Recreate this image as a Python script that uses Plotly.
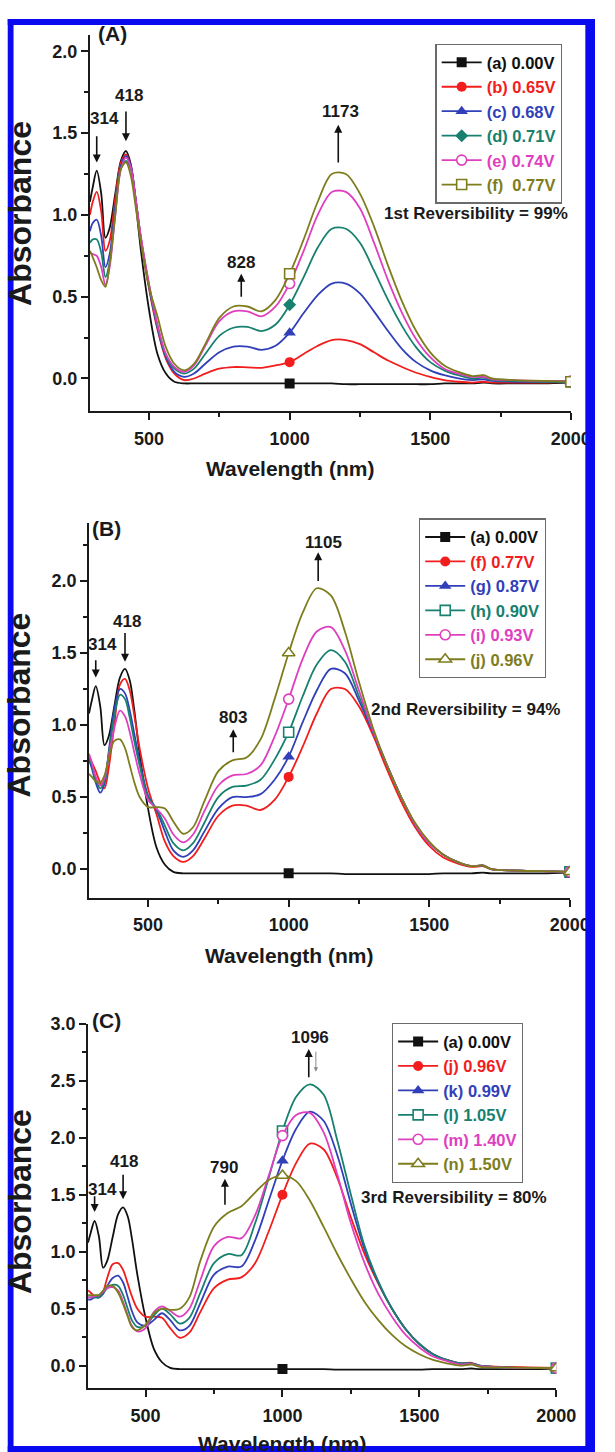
import plotly.graph_objects as go

# ---------------------------------------------------------------------------
# Spectra (absorbance vs. wavelength), one list per applied potential
# ---------------------------------------------------------------------------
wavelength = [290, 300, 314, 330, 345, 360, 380, 400, 418, 435, 450, 470, 500, 530,
              560, 590, 625, 660, 700, 750, 800, 850, 900, 950, 1000, 1050, 1100,
              1150, 1200, 1250, 1300, 1350, 1400, 1450, 1500, 1550, 1600, 1650,
              1690, 1720, 1800, 1900, 2000]

abs_000V = [1.08, 1.17, 1.27, 1.13, 0.86, 0.92, 1.13, 1.33, 1.39, 1.31, 1.12, 0.80, 0.42, 0.15,
            0.03, -0.02, -0.03, -0.03, -0.03, -0.03, -0.03, -0.03, -0.03, -0.03, -0.03, -0.03, -0.03,
            -0.03, -0.035, -0.035, -0.035, -0.035, -0.035, -0.035, -0.035, -0.03, -0.03, -0.03,
            -0.025, -0.03, -0.03, -0.03, -0.025]

abs_065V = [1.00, 1.08, 1.14, 1.02, 0.78, 0.84, 1.10, 1.32, 1.37, 1.30, 1.13, 0.86, 0.55, 0.30,
            0.12, 0.03, -0.01, 0.00, 0.03, 0.06, 0.07, 0.068, 0.065, 0.08, 0.10, 0.15, 0.20,
            0.235, 0.235, 0.21, 0.16, 0.11, 0.07, 0.035, 0.01, -0.01, -0.02, -0.025,
            -0.02, -0.025, -0.025, -0.025, -0.02]

abs_068V = [0.90, 0.95, 0.97, 0.87, 0.68, 0.76, 1.05, 1.30, 1.36, 1.30, 1.13, 0.87, 0.56, 0.31,
            0.13, 0.04, 0.01, 0.03, 0.09, 0.16, 0.195, 0.195, 0.175, 0.20, 0.28, 0.40, 0.51,
            0.58, 0.58, 0.52, 0.41, 0.29, 0.18, 0.10, 0.05, 0.02, 0.00, -0.01,
            -0.005, -0.015, -0.02, -0.02, -0.02]

abs_071V = [0.83, 0.85, 0.85, 0.77, 0.62, 0.71, 1.02, 1.28, 1.33, 1.28, 1.12, 0.87, 0.57, 0.32,
            0.14, 0.06, 0.03, 0.06, 0.15, 0.26, 0.31, 0.315, 0.29, 0.33, 0.45, 0.62, 0.80,
            0.915, 0.915, 0.83, 0.66, 0.48, 0.32, 0.19, 0.10, 0.05, 0.02, 0.00,
            0.005, -0.01, -0.015, -0.02, -0.02]

abs_074V = [0.77, 0.76, 0.75, 0.68, 0.57, 0.68, 1.00, 1.28, 1.35, 1.29, 1.13, 0.88, 0.58, 0.33,
            0.15, 0.07, 0.04, 0.08, 0.20, 0.35, 0.41, 0.41, 0.38, 0.44, 0.58, 0.78, 1.00,
            1.14, 1.14, 1.04, 0.83, 0.60, 0.40, 0.24, 0.13, 0.06, 0.03, 0.01,
            0.01, -0.005, -0.01, -0.015, -0.015]

abs_077V = [0.78, 0.74, 0.68, 0.60, 0.56, 0.70, 1.00, 1.28, 1.32, 1.24, 1.08, 0.84, 0.56, 0.38,
            0.19, 0.09, 0.05, 0.09, 0.21, 0.37, 0.44, 0.44, 0.41, 0.48, 0.64, 0.85, 1.08,
            1.25, 1.25, 1.13, 0.93, 0.69, 0.47, 0.29, 0.16, 0.08, 0.04, 0.015,
            0.02, 0.00, -0.01, -0.015, -0.02]

abs_087V = [0.76, 0.70, 0.60, 0.53, 0.59, 0.81, 1.11, 1.25, 1.22, 1.10, 0.95, 0.75, 0.51, 0.41,
            0.26, 0.13, 0.085, 0.13, 0.26, 0.42, 0.50, 0.50, 0.52, 0.62, 0.78, 1.02, 1.24,
            1.39, 1.36, 1.17, 0.95, 0.72, 0.50, 0.31, 0.18, 0.10, 0.05, 0.02,
            0.025, 0.00, -0.01, -0.015, -0.02]

abs_090V = [0.78, 0.72, 0.62, 0.56, 0.61, 0.80, 1.06, 1.21, 1.18, 1.05, 0.90, 0.72, 0.50, 0.42,
            0.30, 0.18, 0.13, 0.18, 0.32, 0.50, 0.57, 0.58, 0.62, 0.76, 0.95, 1.20, 1.42,
            1.52, 1.44, 1.20, 0.96, 0.72, 0.50, 0.31, 0.18, 0.10, 0.05, 0.02,
            0.025, 0.00, -0.01, -0.015, -0.02]

abs_093V = [0.80, 0.74, 0.64, 0.58, 0.63, 0.78, 0.98, 1.10, 1.06, 0.95, 0.82, 0.66, 0.48, 0.42,
            0.35, 0.24, 0.185, 0.24, 0.40, 0.58, 0.65, 0.66, 0.72, 0.92, 1.18, 1.46, 1.65,
            1.68, 1.52, 1.24, 0.96, 0.72, 0.50, 0.31, 0.18, 0.10, 0.05, 0.02,
            0.025, 0.00, -0.01, -0.015, -0.02]

abs_096V = [0.66, 0.64, 0.61, 0.60, 0.65, 0.77, 0.89, 0.90, 0.84, 0.72, 0.61, 0.50, 0.43, 0.43,
            0.42, 0.33, 0.245, 0.29, 0.47, 0.68, 0.755, 0.775, 0.90, 1.18, 1.50, 1.78, 1.95,
            1.90, 1.65, 1.30, 0.98, 0.72, 0.50, 0.32, 0.19, 0.10, 0.05, 0.02,
            0.025, 0.00, -0.01, -0.015, -0.02]

abs_099V = [0.58, 0.58, 0.60, 0.60, 0.63, 0.70, 0.77, 0.79, 0.73, 0.60, 0.48, 0.38, 0.35, 0.40,
            0.46, 0.40, 0.31, 0.35, 0.55, 0.80, 0.87, 0.87, 1.10, 1.45, 1.80, 2.08, 2.23,
            2.15, 1.85, 1.42, 1.02, 0.73, 0.50, 0.32, 0.19, 0.10, 0.05, 0.02,
            0.02, 0.00, -0.015, -0.02, -0.02]

abs_105V = [0.60, 0.60, 0.60, 0.60, 0.64, 0.68, 0.71, 0.70, 0.62, 0.50, 0.40, 0.34, 0.35, 0.44,
            0.50, 0.45, 0.37, 0.42, 0.64, 0.90, 0.98, 0.97, 1.25, 1.65, 2.06, 2.36, 2.47,
            2.38, 1.98, 1.50, 1.05, 0.74, 0.50, 0.32, 0.19, 0.10, 0.05, 0.02,
            0.02, 0.00, -0.015, -0.02, -0.02]

abs_140V = [0.60, 0.60, 0.61, 0.62, 0.65, 0.68, 0.69, 0.66, 0.56, 0.44, 0.35, 0.30, 0.33, 0.47,
            0.52, 0.48, 0.43, 0.50, 0.75, 1.05, 1.13, 1.12, 1.32, 1.67, 2.02, 2.20, 2.22,
            2.05, 1.68, 1.25, 0.90, 0.63, 0.43, 0.27, 0.16, 0.08, 0.04, 0.01,
            0.015, -0.005, -0.015, -0.02, -0.02]

abs_150V = [0.62, 0.62, 0.62, 0.62, 0.66, 0.70, 0.70, 0.64, 0.54, 0.43, 0.34, 0.31, 0.36, 0.46,
            0.50, 0.49, 0.50, 0.60, 0.92, 1.22, 1.34, 1.40, 1.52, 1.63, 1.67, 1.62, 1.45,
            1.22, 0.98, 0.76, 0.56, 0.40, 0.27, 0.17, 0.10, 0.05, 0.02, 0.00,
            0.01, -0.01, -0.015, -0.02, -0.02]

# Wavelengths that carry a symbol on each curve
marker_wavelengths = [1000, 2000]

# ---------------------------------------------------------------------------
# Styling
# ---------------------------------------------------------------------------
FONT = "Liberation Sans, Arial, Helvetica, sans-serif"
INK = "#1a1a1a"
BLACK = "#111111"
RED = "#f21d1d"
BLUE = "#3140b8"
TEAL = "#17806f"
PINK = "#df3fbf"
OLIVE = "#7d7d1e"

W, H = 615, 1452

# Plot-area boxes in pixels: (left, right, top, bottom)
boxes = {
    1: (93, 590, 25, 404),
    2: (92, 589, 517, 894),
    3: (91, 575, 1021, 1388),
}
y_ranges = {1: [-0.2, 2.1], 2: [-0.2, 2.4], 3: [-0.2, 3.0]}
x_range = [290, 2000]


def px_x(p):
    return p / W


def px_y(p):
    return 1 - p / H


# (panel, label, spectrum, colour, symbol, open)
series = [
    (1, "(a) 0.00V", abs_000V, BLACK, "square", False),
    (1, "(b) 0.65V", abs_065V, RED, "circle", False),
    (1, "(c) 0.68V", abs_068V, BLUE, "triangle-up", False),
    (1, "(d) 0.71V", abs_071V, TEAL, "diamond", False),
    (1, "(e) 0.74V", abs_074V, PINK, "circle", True),
    (1, "(f)&nbsp; 0.77V", abs_077V, OLIVE, "square", True),
    (2, "(a) 0.00V", abs_000V, BLACK, "square", False),
    (2, "(f) 0.77V", abs_077V, RED, "circle", False),
    (2, "(g) 0.87V", abs_087V, BLUE, "triangle-up", False),
    (2, "(h) 0.90V", abs_090V, TEAL, "square", True),
    (2, "(i) 0.93V", abs_093V, PINK, "circle", True),
    (2, "(j) 0.96V", abs_096V, OLIVE, "triangle-up", True),
    (3, "(a) 0.00V", abs_000V, BLACK, "square", False),
    (3, "(j) 0.96V", abs_096V, RED, "circle", False),
    (3, "(k) 0.99V", abs_099V, BLUE, "triangle-up", False),
    (3, "(l) 1.05V", abs_105V, TEAL, "square", True),
    (3, "(m) 1.40V", abs_140V, PINK, "circle", True),
    (3, "(n) 1.50V", abs_150V, OLIVE, "triangle-up", True),
]

fig = go.Figure()

for i, (panel, label, spec, color, symbol, is_open) in enumerate(series):
    xa = "x" if panel == 1 else f"x{panel}"
    ya = "y" if panel == 1 else f"y{panel}"
    lg = "legend" if panel == 1 else f"legend{panel}"
    marker = dict(symbol=symbol, size=10 if symbol != "triangle-up" else 11,
                  color="white" if is_open else color,
                  line=dict(color=color, width=1.6 if is_open else 0))
    # spectrum line
    fig.add_trace(go.Scatter(x=wavelength, y=spec, mode="lines", xaxis=xa, yaxis=ya,
                             line=dict(color=color, width=1.8, shape="spline", smoothing=0.9),
                             showlegend=False, hoverinfo="skip"))
    # symbols on the curve
    mx = [w for w in wavelength if w in marker_wavelengths]
    my = [spec[wavelength.index(w)] for w in mx]
    fig.add_trace(go.Scatter(x=mx, y=my, mode="markers", xaxis=xa, yaxis=ya,
                             marker=marker, showlegend=False, hoverinfo="skip"))
    # legend entry
    fig.add_trace(go.Scatter(x=[None], y=[None], mode="lines+markers", xaxis=xa, yaxis=ya,
                             name=f'<span style="color:{color}">{label}</span>',
                             line=dict(color=color, width=1.8), marker=marker,
                             legend=lg, legendgroup=f"g{i}", showlegend=True))

axis_common = dict(showline=True, linecolor=INK, linewidth=2, mirror=False,
                   showgrid=False, zeroline=False, ticks="outside", ticklen=7, tickwidth=2,
                   tickcolor=INK,
                   tickfont=dict(family=FONT, size=18, color=INK, weight="bold"))

layout = dict(width=W, height=H, autosize=False, margin=dict(l=0, r=0, t=0, b=0),
              plot_bgcolor="white", paper_bgcolor="white", showlegend=True)

for p, (l, r, t, b) in boxes.items():
    xs = "xaxis" if p == 1 else f"xaxis{p}"
    ys = "yaxis" if p == 1 else f"yaxis{p}"
    yanchor = "y" if p == 1 else f"y{p}"
    xanchor = "x" if p == 1 else f"x{p}"
    ymax = y_ranges[p][1]
    layout[xs] = dict(axis_common, domain=[px_x(l), px_x(r)], range=x_range, anchor=yanchor,
                      tickvals=[500, 1000, 1500, 2000], ticklabelstandoff=3,
                      minor=dict(tickvals=[750, 1250, 1750], ticks="outside", ticklen=4,
                                 tickwidth=2, tickcolor=INK))
    majors = [v / 2 for v in range(0, int(ymax * 2) + 1)]
    minors = [v + 0.25 for v in majors if v + 0.25 < ymax]
    layout[ys] = dict(axis_common, domain=[px_y(b), px_y(t)], range=y_ranges[p], anchor=xanchor,
                      tickvals=majors, tickformat=".1f",
                      minor=dict(tickvals=minors, ticks="outside", ticklen=4,
                                 tickwidth=2, tickcolor=INK))

legend_common = dict(bgcolor="white", bordercolor="#6b6b6b", borderwidth=1.3,
                     font=dict(family=FONT, size=16.5, weight="bold"), tracegroupgap=0,
                     xanchor="left", yanchor="top", itemwidth=40, traceorder="normal")
layout["legend"] = dict(legend_common, x=px_x(450), y=px_y(34))
layout["legend2"] = dict(legend_common, x=px_x(433), y=px_y(512))
layout["legend3"] = dict(legend_common, x=px_x(405), y=px_y(1020))

fig.update_layout(**layout)

# ---------------------------------------------------------------------------
# Peak labels and arrows
# ---------------------------------------------------------------------------
ann = []


def label(panel, x, y, text, size=17):
    sfx = "" if panel == 1 else str(panel)
    ann.append(dict(x=x, y=y, xref="x" + sfx, yref="y" + sfx, text=text, showarrow=False,
                    xanchor="center", yanchor="middle",
                    font=dict(family=FONT, size=size, color=INK, weight="bold")))


def arrow(panel, x, y_tail, y_head, color="#111111", width=1.6, size=1.0):
    sfx = "" if panel == 1 else str(panel)
    ann.append(dict(x=x, y=y_head, ax=x, ay=y_tail, xref="x" + sfx, yref="y" + sfx,
                    axref="x" + sfx, ayref="y" + sfx, text="", showarrow=True,
                    arrowhead=2, arrowsize=size, arrowwidth=width, arrowcolor=color))


# panel A
label(1, 340, 1.59, "314")
arrow(1, 314, 1.49, 1.32)
label(1, 428, 1.73, "418")
arrow(1, 418, 1.64, 1.45)
label(1, 828, 0.71, "828")
arrow(1, 828, 0.49, 0.64)
label(1, 1180, 1.63, "1173")
arrow(1, 1173, 1.31, 1.55)
label(1, 1662, 1.01, "1st Reversibility = 99%")

# panel B
label(2, 338, 1.56, "314")
arrow(2, 314, 1.46, 1.33)
label(2, 425, 1.72, "418")
arrow(2, 418, 1.65, 1.44)
label(2, 803, 1.05, "803")
arrow(2, 803, 0.80, 0.97)
label(2, 1125, 2.27, "1105")
arrow(2, 1105, 1.99, 2.20)
label(2, 1628, 1.11, "2nd Reversibility = 94%")

# panel C
label(3, 343, 1.55, "314")
arrow(3, 314, 1.50, 1.35)
label(3, 421, 1.79, "418")
arrow(3, 418, 1.69, 1.46)
label(3, 786, 1.74, "790")
arrow(3, 790, 1.40, 1.64)
label(3, 1102, 2.88, "1096")
arrow(3, 1096, 2.52, 2.78)
arrow(3, 1122, 2.77, 2.58, color="#8a8a8a", width=1.0, size=0.9)
label(3, 1627, 1.48, "3rd Reversibility = 80%")

# panel letters (paper coordinates)
for txt, xp, yp in [("(A)", 116, 24), ("(B)", 110, 522), ("(C)", 110, 1018)]:
    ann.append(dict(x=px_x(xp), y=px_y(yp), xref="paper", yref="paper", text=txt,
                    xanchor="center", yanchor="middle", showarrow=False,
                    font=dict(family=FONT, size=21, color=INK, weight="bold")))

# axis titles
for sfx, yp in [("", 462), ("2", 952), ("3", 1443)]:
    ann.append(dict(x=1000, y=px_y(yp), xref="x" + sfx, yref="paper", text="Wavelength (nm)",
                    xanchor="center", yanchor="middle", showarrow=False,
                    font=dict(family=FONT, size=21, color=INK, weight="bold")))

for yp in [205, 700, 1200]:
    ann.append(dict(x=px_x(20), y=px_y(yp), xref="paper", yref="paper", text="Absorbance",
                    xanchor="center", yanchor="middle", textangle=-90, showarrow=False,
                    font=dict(family=FONT, size=32, color=INK, weight="bold")))

fig.update_layout(annotations=ann)

# blue frame around the figure
frame = [(8, 14, 9, 1452), (8, 615, 9, 15), (605, 615, 9, 1452), (8, 615, 1446, 1452)]
fig.update_layout(shapes=[dict(type="rect", xref="paper", yref="paper",
                               x0=px_x(a), x1=px_x(b), y0=px_y(d), y1=px_y(c),
                               fillcolor="#0a0af0", line=dict(width=0), layer="above")
                          for a, b, c, d in frame])

fig.write_html("out.html")
